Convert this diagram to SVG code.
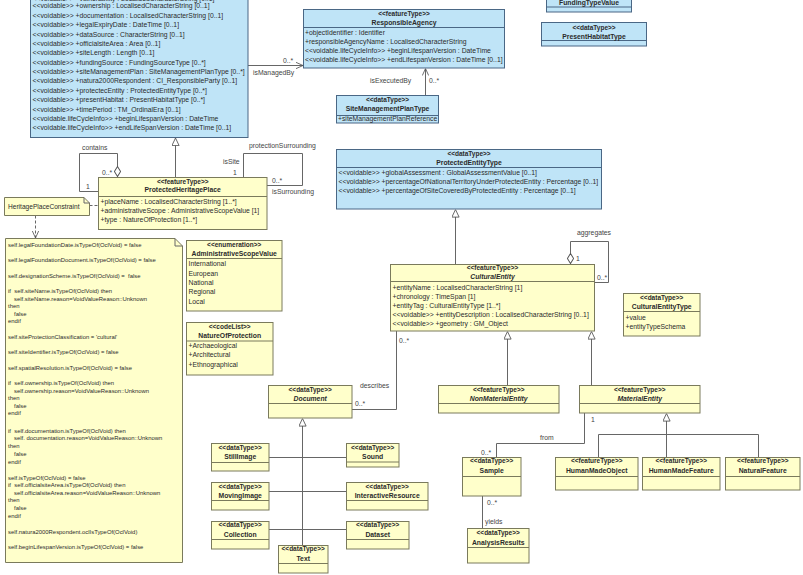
<svg xmlns="http://www.w3.org/2000/svg" width="803" height="575" viewBox="0 0 803 575">
<style>
.b{fill:#BFE4F7;stroke:#4A6785;stroke-width:1}
.y{fill:#FFFFCB;stroke:#7A7A5C;stroke-width:1}
.sb{stroke:#4A6785;stroke-width:1}
.sy{stroke:#7A7A5C;stroke-width:1}
text{font-family:"Liberation Sans",Arial,sans-serif;fill:#2b2b2b}
.a{font-size:6.8px}
.st{font-size:6.5px;font-weight:bold;text-anchor:middle}
.n{font-size:6.8px;font-weight:bold;text-anchor:middle}
.i{font-style:italic}
.lb{font-size:6.8px;fill:#444}
.c{font-size:5.9px}
.cn{fill:none;stroke:#666;stroke-width:1}
.d{stroke-dasharray:3,2}
</style>
<defs>
<marker id="tri" viewBox="0 0 10 10" refX="10" refY="5" markerWidth="8" markerHeight="8" markerUnits="userSpaceOnUse" orient="auto"><path d="M0.5,0.5 L10,5 L0.5,9.5 z" fill="#fff" stroke="#555" stroke-width="1.1"/></marker>
<marker id="arr" viewBox="0 0 10 10" refX="10" refY="5" markerWidth="7" markerHeight="7" markerUnits="userSpaceOnUse" orient="auto"><path d="M0,0.5 L10,5 L0,9.5" fill="none" stroke="#555" stroke-width="1.2"/></marker>
<marker id="dia" viewBox="0 0 12 8" refX="0" refY="4" markerWidth="11" markerHeight="7.3" markerUnits="userSpaceOnUse" orient="auto"><path d="M0.5,4 L6,0.6 L11.5,4 L6,7.4 z" fill="#fff" stroke="#555" stroke-width="1.1"/></marker>
</defs>

<g id="connectors">
<path class="cn" d="M248,65.5 H303" marker-end="url(#arr)"/>
<path class="cn" d="M425.5,95 V68.5" marker-end="url(#arr)"/>
<path class="cn" d="M175.5,177 V138" marker-end="url(#tri)"/>
<path class="cn" d="M117.5,177 V153.5 H79.5 V191.5 H98" marker-start="url(#dia)"/>
<path class="cn" d="M243.5,177 V153.5 H302.5 V185.5 H267"/>
<path class="cn d" d="M89.5,205.5 H98"/>
<path class="cn d" d="M35.5,215.5 V238" marker-end="url(#arr)"/>
<path class="cn" d="M455.5,264 V209.5" marker-end="url(#tri)"/>
<path class="cn" d="M570.5,264 V241.5 H608.5 V282.5 H595" marker-start="url(#dia)"/>
<path class="cn" d="M507.5,385 V331.5" marker-end="url(#tri)"/>
<path class="cn" d="M591.5,385 V331.5" marker-end="url(#tri)"/>
<path class="cn" d="M396.5,331 V409.5 H352"/>
<path class="cn" d="M302.5,545 V418.5" marker-end="url(#tri)"/>
<path class="cn" d="M269,457.5 H346"/>
<path class="cn" d="M269,491.5 H346"/>
<path class="cn" d="M269,529.5 H346"/>
<path class="cn" d="M584.5,413 V443.5 H496.5 V457"/>
<path class="cn" d="M482.5,496 V528"/>
<path class="cn" d="M598.5,457 V434.5 H758.5 V457"/>
<path class="cn" d="M666.5,457 V413.5" marker-end="url(#tri)"/>
<text class="lb" x="253" y="75">isManagedBy</text>
<text class="lb" x="283" y="63">0..*</text>
<text class="lb" x="370" y="82.5">isExecutedBy</text>
<text class="lb" x="429" y="82.5">0..*</text>
<text class="lb" x="82" y="150">contains</text>
<text class="lb" x="102" y="174.5">0..*</text>
<text class="lb" x="86" y="189">1</text>
<text class="lb" x="249" y="147.5">protectionSurrounding</text>
<text class="lb" x="223" y="164">isSite</text>
<text class="lb" x="233" y="174.5">1</text>
<text class="lb" x="272" y="183">0..*</text>
<text class="lb" x="272" y="194">isSurrounding</text>
<text class="lb" x="577" y="234.5">aggregates</text>
<text class="lb" x="576" y="260.5">1</text>
<text class="lb" x="597" y="279.5">0..*</text>
<text class="lb" x="399" y="343">0..*</text>
<text class="lb" x="360" y="387.5">describes</text>
<text class="lb" x="355" y="405.5">0..*</text>
<text class="lb" x="591" y="421.5">1</text>
<text class="lb" x="540" y="440">from</text>
<text class="lb" x="481" y="454.5">0..*</text>
<text class="lb" x="487" y="504.5">0..*</text>
<text class="lb" x="485" y="523.5">yields</text>
</g>

<g id="protectedSite">
<rect class="b" x="30.5" y="-10" width="217.5" height="147.5"/>
<text class="a" x="32.5" y="0.5">&lt;&lt;voidable&gt;&gt; +vulnerability : LocalisedCharacterString [0..1]</text>
<text class="a" x="32.5" y="8.4">&lt;&lt;voidable&gt;&gt; +ownership : LocalisedCharacterString [0..1]</text>
<text class="a" x="32.5" y="17.8">&lt;&lt;voidable&gt;&gt; +documentation : LocalisedCharacterString [0..1]</text>
<text class="a" x="32.5" y="27.2">&lt;&lt;voidable&gt;&gt; +legalExpiryDate : DateTime [0..1]</text>
<text class="a" x="32.5" y="36.5">&lt;&lt;voidable&gt;&gt; +dataSource : CharacterString [0..1]</text>
<text class="a" x="32.5" y="45.9">&lt;&lt;voidable&gt;&gt; +officialsiteArea : Area [0..1]</text>
<text class="a" x="32.5" y="55.3">&lt;&lt;voidable&gt;&gt; +siteLength : Length [0..1]</text>
<text class="a" x="32.5" y="64.7">&lt;&lt;voidable&gt;&gt; +fundingSource : FundingSourceType [0..*]</text>
<text class="a" x="32.5" y="74.1">&lt;&lt;voidable&gt;&gt; +siteManagementPlan : SiteManagementPlanType [0..*]</text>
<text class="a" x="32.5" y="83.4">&lt;&lt;voidable&gt;&gt; +natura2000Respondent : CI_ResponsibleParty [0..1]</text>
<text class="a" x="32.5" y="92.8">&lt;&lt;voidable&gt;&gt; +protectecEntity : ProtectedEntityType [0..*]</text>
<text class="a" x="32.5" y="102.2">&lt;&lt;voidable&gt;&gt; +presentHabitat : PresentHabitatType [0..*]</text>
<text class="a" x="32.5" y="111.6">&lt;&lt;voidable&gt;&gt; +timePeriod : TM_OrdinalEra [0..1]</text>
<text class="a" x="32.5" y="121">&lt;&lt;voidable.lifeCycleInfo&gt;&gt; +beginLifespanVersion : DateTime</text>
<text class="a" x="32.5" y="130.3">&lt;&lt;voidable.lifeCycleInfo&gt;&gt; +endLifeSpanVersion : DateTime [0..1]</text>
</g>

<g id="responsibleAgency">
<rect class="b" x="303.5" y="9.5" width="201" height="58.5"/>
<line class="sb" x1="303.5" y1="27.5" x2="504.5" y2="27.5"/>
<text class="st" x="404" y="15.8">&lt;&lt;featureType&gt;&gt;</text>
<text class="n" x="404" y="24.8">ResponsibleAgency</text>
<text class="a" x="305" y="34.5">+objectIdentifier : Identifier</text>
<text class="a" x="305" y="43.5">+responsibleAgencyName : LocalisedCharacterString</text>
<text class="a" x="305" y="52.5">&lt;&lt;voidable.lifeCycleInfo&gt;&gt; +beginLifespanVersion : DateTime</text>
<text class="a" x="305" y="61.5">&lt;&lt;voidable.lifeCycleInfo&gt;&gt; +endLifespanVersion : DateTime [0..1]</text>
</g>

<g id="siteManagementPlanType">
<rect class="b" x="336.5" y="95.5" width="102" height="27.5"/>
<line class="sb" x1="336.5" y1="115.5" x2="438.5" y2="115.5"/>
<text class="st" x="387.5" y="101.8">&lt;&lt;dataType&gt;&gt;</text>
<text class="n" x="387.5" y="110.8">SiteManagementPlanType</text>
<text class="a" x="338" y="120.7">+siteManagementPlanReference</text>
</g>

<g id="fundingTypeValue">
<rect class="b" x="546.5" y="-20" width="85" height="32"/>
<line class="sb" x1="546.5" y1="7" x2="631.5" y2="7"/>
<text class="n" x="589" y="4.5">FundingTypeValue</text>
</g>

<g id="presentHabitatType">
<rect class="b" x="541.5" y="22.5" width="105" height="23.5"/>
<line class="sb" x1="541.5" y1="40.5" x2="646.5" y2="40.5"/>
<text class="st" x="594" y="29.5">&lt;&lt;dataType&gt;&gt;</text>
<text class="n" x="594" y="38.6">PresentHabitatType</text>
</g>

<g id="protectedHeritagePlace">
<rect class="y" x="98.5" y="177.5" width="168.5" height="52"/>
<line class="sy" x1="98.5" y1="196.5" x2="267" y2="196.5"/>
<text class="st" x="182.7" y="184">&lt;&lt;featureType&gt;&gt;</text>
<text class="n" x="182.7" y="192">ProtectedHeritagePlace</text>
<text class="a" x="100.5" y="203.5">+placeName : LocalisedCharacterString [1..*]</text>
<text class="a" x="100.5" y="212.5">+administrativeScope : AdministrativeScopeValue [1]</text>
<text class="a" x="100.5" y="221.5">+type : NatureOfProtection [1..*]</text>
</g>

<g id="heritagePlaceConstraint">
<path class="y" d="M4.5,197.5 H84 L89.5,203 V215.5 H4.5 Z"/>
<path class="cn" d="M84,197.5 V203 H89.5"/>
<text x="8" y="208.5" style="font-size:6.6px">HeritagePlaceConstraint</text>
</g>

<g id="constraintBody">
<path class="y" d="M5.5,238.5 H175 L182.5,246 V562.5 H5.5 Z"/>
<path class="cn" d="M175,238.5 V246 H182.5"/>
<text class="c" x="8" y="247">self.legalFoundationDate.isTypeOf(OclVoid) = false</text>
<text class="c" x="8" y="262.3">self.legalFoundationDocument.isTypeOf(OclVoid) = false</text>
<text class="c" x="8" y="277.8">self.designationScheme.isTypeOf(OclVoid) =&#160; false</text>
<text class="c" x="8" y="293">if&#160; self.siteName.isTypeOf(OclVoid) then</text>
<text class="c" x="14" y="300.6">self.siteName.reason=VoidValueReason::Unknown</text>
<text class="c" x="8" y="308.2">then</text>
<text class="c" x="14" y="315.8">false</text>
<text class="c" x="8" y="323.4">endif</text>
<text class="c" x="8" y="338.8">self.siteProtectionClassification = 'cultural'</text>
<text class="c" x="8" y="354.2">self.siteIdentifier.isTypeOf(OclVoid) = false</text>
<text class="c" x="8" y="369.6">self.spatialResolution.isTypeOf(OclVoid) = false</text>
<text class="c" x="8" y="385">if&#160; self.ownership.isTypeOf(OclVoid) then</text>
<text class="c" x="14" y="392.6">self.ownership.reason=VoidValueReason::Unknown</text>
<text class="c" x="8" y="400.2">then</text>
<text class="c" x="14" y="407.8">false</text>
<text class="c" x="8" y="415.4">endif</text>
<text class="c" x="8" y="432.6">if&#160; self.documentation.isTypeOf(OclVoid) then</text>
<text class="c" x="14" y="440.4">self. documentation.reason=VoidValueReason::Unknown</text>
<text class="c" x="8" y="448.2">then</text>
<text class="c" x="14" y="456">false</text>
<text class="c" x="8" y="463.8">endif</text>
<text class="c" x="8" y="479.6">self.isTypeOf(OclVoid) = false</text>
<text class="c" x="8" y="487.2">if&#160; self.officialsiteArea.isTypeOf(OclVoid) then</text>
<text class="c" x="14" y="494.8">self.officialsiteArea.reason=VoidValueReason::Unknown</text>
<text class="c" x="8" y="502.4">then</text>
<text class="c" x="14" y="510">false</text>
<text class="c" x="8" y="517.6">endif</text>
<text class="c" x="8" y="533.6">self.natura2000Respondent.oclIsTypeOf(OclVoid)</text>
<text class="c" x="8" y="549">self.beginLifespanVersion.isTypeOf(OclVoid) = false</text>
</g>

<g id="administrativeScopeValue">
<rect class="y" x="186.5" y="240.5" width="95.5" height="70.5"/>
<line class="sy" x1="186.5" y1="258.5" x2="282" y2="258.5"/>
<text class="st" x="234.2" y="246.5">&lt;&lt;enumeration&gt;&gt;</text>
<text class="n" x="234.2" y="256">AdministrativeScopeValue</text>
<text class="a" x="188.5" y="266.3">International</text>
<text class="a" x="188.5" y="275.6">European</text>
<text class="a" x="188.5" y="284.9">National</text>
<text class="a" x="188.5" y="294.2">Regional</text>
<text class="a" x="188.5" y="303.5">Local</text>
</g>

<g id="natureOfProtection">
<rect class="y" x="186.5" y="322.5" width="86.5" height="52.5"/>
<line class="sy" x1="186.5" y1="341" x2="273" y2="341"/>
<text class="st" x="229.7" y="329">&lt;&lt;codeList&gt;&gt;</text>
<text class="n" x="229.7" y="338.2">NatureOfProtection</text>
<text class="a" x="188.5" y="348">+Archaeological</text>
<text class="a" x="188.5" y="357.3">+Architectural</text>
<text class="a" x="188.5" y="366.6">+Ethnographical</text>
</g>

<g id="protectedEntityType">
<rect class="b" x="336.5" y="149.5" width="265" height="59.5"/>
<line class="sb" x1="336.5" y1="167.5" x2="601.5" y2="167.5"/>
<text class="st" x="469" y="155.5">&lt;&lt;dataType&gt;&gt;</text>
<text class="n" x="469" y="164.5">ProtectedEntityType</text>
<text class="a" x="338.5" y="174.5">&lt;&lt;voidable&gt;&gt; +globalAssessment : GlobalAssessmentValue [0..1]</text>
<text class="a" x="338.5" y="183.8">&lt;&lt;voidable&gt;&gt; +percentageOfNationalTerritoryUnderProtectedEntity : Percentage [0..1]</text>
<text class="a" x="338.5" y="193">&lt;&lt;voidable&gt;&gt; +percentageOfSiteCoveredByProtectedEntity : Percentage [0..1]</text>
</g>

<g id="culturalEntity">
<rect class="y" x="390.5" y="264.5" width="204" height="66.5"/>
<line class="sy" x1="390.5" y1="281.5" x2="594.5" y2="281.5"/>
<text class="st" x="492.5" y="270.3">&lt;&lt;featureType&gt;&gt;</text>
<text class="n i" x="492.5" y="279.2">CulturalEntity</text>
<text class="a" x="392.5" y="289.5">+entityName : LocalisedCharacterString [1]</text>
<text class="a" x="392.5" y="298.5">+chronology : TimeSpan [1]</text>
<text class="a" x="392.5" y="307.5">+entityTag : CulturalEntityType [1..*]</text>
<text class="a" x="392.5" y="316.5">&lt;&lt;voidable&gt;&gt; +entityDescription : LocalisedCharacterString [0..1]</text>
<text class="a" x="392.5" y="325.5">&lt;&lt;voidable&gt;&gt; +geometry : GM_Object</text>
</g>

<g id="culturalEntityType">
<rect class="y" x="623.5" y="293.5" width="76.5" height="42.5"/>
<line class="sy" x1="623.5" y1="311.5" x2="700" y2="311.5"/>
<text class="st" x="661.7" y="299.8">&lt;&lt;dataType&gt;&gt;</text>
<text class="n" x="661.7" y="309.2">CulturalEntityType</text>
<text class="a" x="625.5" y="319.5">+value</text>
<text class="a" x="625.5" y="328.5">+entityTypeSchema</text>
</g>

<g id="document">
<rect class="y" x="268.5" y="385.5" width="83.5" height="32.5"/>
<line class="sy" x1="268.5" y1="403.5" x2="352" y2="403.5"/>
<text class="st" x="310.2" y="392">&lt;&lt;dataType&gt;&gt;</text>
<text class="n i" x="310.2" y="401">Document</text>
</g>

<g id="stillImage">
<rect class="y" x="211.5" y="443.5" width="57.5" height="27.5"/>
<line class="sy" x1="211.5" y1="462.5" x2="269" y2="462.5"/>
<text class="st" x="240.2" y="449.5">&lt;&lt;dataType&gt;&gt;</text>
<text class="n" x="240.2" y="459">StillImage</text>
</g>

<g id="sound">
<rect class="y" x="346.5" y="443.5" width="52.5" height="23.5"/>
<line class="sy" x1="346.5" y1="462" x2="399" y2="462"/>
<text class="st" x="372.7" y="449.5">&lt;&lt;dataType&gt;&gt;</text>
<text class="n" x="372.7" y="459">Sound</text>
</g>

<g id="movingImage">
<rect class="y" x="211.5" y="482.5" width="57.5" height="27.5"/>
<line class="sy" x1="211.5" y1="500.5" x2="269" y2="500.5"/>
<text class="st" x="240.2" y="488.5">&lt;&lt;dataType&gt;&gt;</text>
<text class="n" x="240.2" y="498">MovingImage</text>
</g>

<g id="interactiveResource">
<rect class="y" x="346.5" y="482.5" width="81.5" height="27.5"/>
<line class="sy" x1="346.5" y1="500.5" x2="428" y2="500.5"/>
<text class="st" x="387.2" y="488.5">&lt;&lt;dataType&gt;&gt;</text>
<text class="n" x="387.2" y="498">InteractiveResource</text>
</g>

<g id="collection">
<rect class="y" x="211.5" y="521.5" width="57.5" height="27.5"/>
<line class="sy" x1="211.5" y1="539.5" x2="269" y2="539.5"/>
<text class="st" x="240.2" y="527.3">&lt;&lt;dataType&gt;&gt;</text>
<text class="n" x="240.2" y="536.5">Collection</text>
</g>

<g id="dataset">
<rect class="y" x="346.5" y="521.5" width="62.5" height="27.5"/>
<line class="sy" x1="346.5" y1="539.5" x2="409" y2="539.5"/>
<text class="st" x="377.7" y="527.3">&lt;&lt;dataType&gt;&gt;</text>
<text class="n" x="377.7" y="536.5">Dataset</text>
</g>

<g id="text">
<rect class="y" x="278.5" y="545.5" width="49.5" height="27.5"/>
<line class="sy" x1="278.5" y1="563.5" x2="328" y2="563.5"/>
<text class="st" x="303.2" y="551.3">&lt;&lt;dataType&gt;&gt;</text>
<text class="n" x="303.2" y="560.5">Text</text>
</g>

<g id="nonMaterialEntity">
<rect class="y" x="438.5" y="385.5" width="120.5" height="27.5"/>
<line class="sy" x1="438.5" y1="403.5" x2="559" y2="403.5"/>
<text class="st" x="498.7" y="391.5">&lt;&lt;featureType&gt;&gt;</text>
<text class="n i" x="498.7" y="400.5">NonMaterialEntity</text>
</g>

<g id="materialEntity">
<rect class="y" x="579.5" y="385.5" width="120.5" height="27.5"/>
<line class="sy" x1="579.5" y1="403.5" x2="700" y2="403.5"/>
<text class="st" x="639.7" y="391.5">&lt;&lt;featureType&gt;&gt;</text>
<text class="n i" x="639.7" y="400.5">MaterialEntity</text>
</g>

<g id="sample">
<rect class="y" x="462.5" y="457.5" width="58.5" height="38.5"/>
<line class="sy" x1="462.5" y1="476.5" x2="521" y2="476.5"/>
<text class="st" x="491.7" y="463.3">&lt;&lt;dataType&gt;&gt;</text>
<text class="n" x="491.7" y="472.8">Sample</text>
</g>

<g id="humanMadeObject">
<rect class="y" x="555.5" y="457.5" width="82.5" height="32.5"/>
<line class="sy" x1="555.5" y1="476.5" x2="638" y2="476.5"/>
<text class="st" x="596.7" y="463.3">&lt;&lt;featureType&gt;&gt;</text>
<text class="n" x="596.7" y="472.8">HumanMadeObject</text>
</g>

<g id="humanMadeFeature">
<rect class="y" x="642.5" y="457.5" width="77.5" height="32.5"/>
<line class="sy" x1="642.5" y1="476.5" x2="720" y2="476.5"/>
<text class="st" x="681.2" y="463.3">&lt;&lt;featureType&gt;&gt;</text>
<text class="n" x="681.2" y="472.8">HumanMadeFeature</text>
</g>

<g id="naturalFeature">
<rect class="y" x="725.5" y="457.5" width="74.5" height="32.5"/>
<line class="sy" x1="725.5" y1="476.5" x2="800" y2="476.5"/>
<text class="st" x="762.7" y="463.3">&lt;&lt;featureType&gt;&gt;</text>
<text class="n" x="762.7" y="472.8">NaturalFeature</text>
</g>

<g id="analysisResults">
<rect class="y" x="467.5" y="528.5" width="61.5" height="34.5"/>
<line class="sy" x1="467.5" y1="547.5" x2="529" y2="547.5"/>
<text class="st" x="498.2" y="535.3">&lt;&lt;dataType&gt;&gt;</text>
<text class="n" x="498.2" y="544.5">AnalysisResults</text>
</g>
</svg>
